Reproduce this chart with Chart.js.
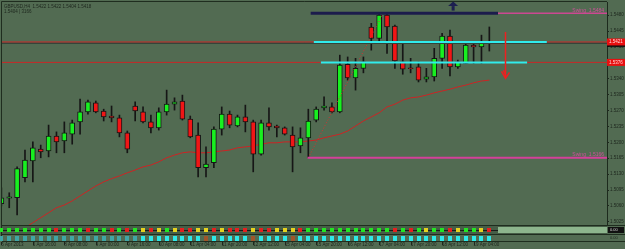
<!DOCTYPE html>
<html>
<head>
<meta charset="utf-8">
<script src="https://cdn.jsdelivr.net/npm/chart.js@4.4.0/dist/chart.umd.min.js"></script>
<style>
  html, body { margin: 0; padding: 0; background: #526b52; }
  #wrap { width: 625px; height: 249px; }
</style>
</head>
<body>
<div id="wrap"><canvas id="myChart" width="625" height="249"></canvas></div>
<script>
// GBPUSD H4 candles
const opens = [1.5065,1.5077,1.5078,1.5122,1.5159,1.5185,1.5181,1.5214,1.5203,1.5218,
	1.5245,1.5267,1.5287,1.5269,1.5258,1.5254,1.5221,1.5280,1.5267,1.5245,
	1.5232,1.5267,1.5284,1.5291,1.5251,1.5216,1.5144,1.5155,1.5229,1.5262,
	1.5236,1.5256,1.5245,1.5174,1.5243,1.5236,1.5232,1.5216,1.5192,1.5210,
	1.5249,1.5276,1.5278,1.5267,1.5372,1.5342,1.5363,1.5454,1.5429,1.5480,
	1.5456,1.5377,1.5363,1.5366,1.5339,1.5344,1.5385,1.5434,1.5366,1.5374,
	1.5414,1.5410,1.5421];
const highs = [1.5100,1.5089,1.5146,1.5183,1.5201,1.5194,1.5238,1.5223,1.5245,1.5249,
	1.5295,1.5293,1.5291,1.5273,1.5280,1.5260,1.5225,1.5289,1.5278,1.5260,
	1.5276,1.5315,1.5298,1.5304,1.5258,1.5243,1.5190,1.5234,1.5278,1.5269,
	1.5260,1.5282,1.5249,1.5249,1.5276,1.5238,1.5234,1.5234,1.5232,1.5273,
	1.5278,1.5300,1.5287,1.5392,1.5388,1.5385,1.5388,1.5462,1.5484,1.5484,
	1.5458,1.5418,1.5385,1.5377,1.5363,1.5407,1.5440,1.5447,1.5381,1.5418,
	1.5418,1.5436,1.5454];
const lows = [1.5060,1.5056,1.5040,1.5113,1.5113,1.5166,1.5168,1.5177,1.5177,1.5196,
	1.5218,1.5262,1.5265,1.5247,1.5245,1.5212,1.5177,1.5247,1.5243,1.5221,
	1.5227,1.5260,1.5271,1.5249,1.5210,1.5124,1.5124,1.5144,1.5216,1.5232,
	1.5234,1.5223,1.5135,1.5172,1.5227,1.5212,1.5216,1.5135,1.5177,1.5166,
	1.5245,1.5271,1.5265,1.5265,1.5337,1.5315,1.5353,1.5403,1.5418,1.5396,
	1.5363,1.5350,1.5353,1.5333,1.5333,1.5335,1.5363,1.5346,1.5363,1.5374,
	1.5374,1.5374,1.5401];
const closes = [1.5078,1.5080,1.5142,1.5161,1.5188,1.5179,1.5214,1.5201,1.5221,1.5243,
	1.5267,1.5289,1.5267,1.5256,1.5254,1.5221,1.5185,1.5269,1.5245,1.5232,
	1.5267,1.5284,1.5289,1.5251,1.5212,1.5144,1.5152,1.5229,1.5262,1.5238,
	1.5256,1.5245,1.5174,1.5243,1.5234,1.5232,1.5218,1.5190,1.5210,1.5247,
	1.5273,1.5280,1.5267,1.5370,1.5342,1.5363,1.5377,1.5429,1.5480,1.5454,
	1.5379,1.5361,1.5362,1.5337,1.5344,1.5385,1.5434,1.5366,1.5377,1.5414,
	1.5410,1.5421,1.5418];

// moving average (red), starts at candle 3
const maStart = 3;
const maVals = [1.5012,1.5023,1.5034,1.5045,1.5056,1.5062,1.5071,1.5082,1.5093,1.5104,
	1.5113,1.5120,1.5126,1.5133,1.5139,1.5146,1.5150,1.5157,1.5166,1.5172,
	1.5177,1.5179,1.5177,1.5177,1.5179,1.5181,1.5183,1.5188,1.5190,1.5192,
	1.5196,1.5199,1.5199,1.5201,1.5201,1.5201,1.5203,1.5205,1.5210,1.5214,
	1.5218,1.5225,1.5236,1.5247,1.5256,1.5265,1.5278,1.5284,1.5293,1.5298,
	1.5300,1.5304,1.5309,1.5313,1.5317,1.5322,1.5326,1.5331,1.5335,1.5337];

// indicator rows: g = green, r = red, y = yellow / c = cyan, d = dim cyan, b = brown
const signalRow = "gggggggrgggrggrgrgyrygyrryyryrrryrryyyrgggggggggggrgrgyggryggyr";
const trendRow  = "ddddddddddddddddddccccccccbcccccbccccbccccccccccccccccccccccccc";

const priceTicks = [1.5480,1.5445,1.5410,1.5375,1.5340,1.5305,1.5270,1.5235,1.5200,1.5165,1.5130,1.5095,1.5060,1.5025];
const timeTicks = [0,4,8,12,16,20,24,28,32,36,40,44,48,52,56,60];
const timeLabels = ["5 Apr 2013","5 Apr 16:00","8 Apr 08:00","9 Apr 00:00","9 Apr 16:00","10 Apr 08:00",
	"11 Apr 04:00","11 Apr 20:00","12 Apr 12:00","15 Apr 04:00","15 Apr 20:00","16 Apr 12:00",
	"17 Apr 04:00","17 Apr 20:00","18 Apr 12:00","19 Apr 04:00"];

// chart objects
const resistLevel = 1.5421;
const supportLevel = 1.5376;
const bidPrice = 1.5418;
const swingHigh = 1.5484;
const swingLow = 1.5166;
const headerText = "GBPUSD,H4  1.5422 1.5422 1.5404 1.5418";
const headerText2 = "1.5404 | 3166";

const xMin = 0.08, xMax = 76.95;
const yMin = 1.5018, yMax = 1.5509;

const idx = opens.map((_, i) => i);
const bodyData = idx.map(i => ({ x: i, y: [Math.min(opens[i], closes[i]), Math.max(opens[i], closes[i])] }));
const wickData = idx.map(i => ({ x: i, y: [lows[i], highs[i]] }));
const bodyColors = idx.map(i => closes[i] >= opens[i] ? '#18f020' : '#f01616');
const maData = maVals.map((v, j) => ({ x: j + maStart, y: v }));

function hline(level, from, to, color, width) {
	return {
		type: 'line', order: 0,
		data: [{ x: from, y: level }, { x: to, y: level }],
		borderColor: color, borderWidth: width,
		pointRadius: 0, tension: 0
	};
}

const decor = {
	id: 'decor',
	beforeDraw(chart) {
		const ctx = chart.ctx;
		ctx.save();
		ctx.fillStyle = '#526b52';
		ctx.fillRect(0, 0, chart.width, chart.height);
		ctx.restore();
	},
	afterDraw(chart) {
		const ctx = chart.ctx;
		const a = chart.chartArea;
		const xs = chart.scales.x, ys = chart.scales.y;
		ctx.save();

		// frame
		ctx.strokeStyle = '#1f2d1f';
		ctx.lineWidth = 1;
		ctx.beginPath();
		ctx.moveTo(1.5, 241); ctx.lineTo(1.5, 1.5); ctx.lineTo(a.right, 1.5);
		ctx.stroke();

		// indicator window 1
		const b = a.bottom;
		ctx.fillStyle = '#465d46';
		ctx.fillRect(2, b, a.right - 2, 9);
		ctx.fillStyle = '#8db58d';
		const lightFrom = xs.getPixelForValue(63.1);
		ctx.fillRect(lightFrom, b + 2, a.right - lightFrom, 6);
		ctx.strokeStyle = '#1f2d1f';
		ctx.beginPath();
		ctx.moveTo(2, b + 0.5); ctx.lineTo(625, b + 0.5);
		ctx.moveTo(2, b + 9.5); ctx.lineTo(625, b + 9.5);
		ctx.moveTo(2, b + 16.5); ctx.lineTo(625, b + 16.5);
		ctx.stroke();
		ctx.strokeStyle = '#1a1a1a';
		ctx.beginPath();
		ctx.moveTo(2, b + 5.5); ctx.lineTo(lightFrom, b + 5.5);
		ctx.stroke();
		const sigCol = { g: '#22e622', r: '#e61e1e', y: '#e6d21e' };
		for (let i = 0; i < signalRow.length; i++) {
			const px = Math.round(xs.getPixelForValue(i));
			ctx.fillStyle = sigCol[signalRow[i]];
			ctx.fillRect(px - 2, b + 3, 4, 4);
		}
		// indicator window 2
		const trCol = { c: '#2ee8e8', d: '#3fa6a6', b: '#a0552a' };
		for (let i = 0; i < trendRow.length; i++) {
			const px = Math.round(xs.getPixelForValue(i));
			ctx.fillStyle = trCol[trendRow[i]];
			ctx.fillRect(px - 2, b + 11, 4, 5);
		}
		ctx.fillStyle = '#111';
		ctx.fillRect(a.right + 1, b + 2, 16, 6);
		ctx.font = '4px "Liberation Sans"';
		ctx.textBaseline = 'middle';
		ctx.fillStyle = '#d8d8d8';
		ctx.fillText('0.00', a.right + 3, b + 5);
		ctx.fillStyle = '#1d261d';
		ctx.fillText('0.00', a.right + 3, b + 12.5);

		// time axis tick marks
		ctx.strokeStyle = '#1d261d';
		ctx.beginPath();
		timeTicks.forEach(t => {
			const px = Math.round(xs.getPixelForValue(t)) + 0.5;
			ctx.moveTo(px, b + 17); ctx.lineTo(px, b + 20);
		});
		ctx.stroke();

		// header
		ctx.font = '4.5px "Liberation Sans"';
		ctx.fillStyle = '#1d261d';
		ctx.textBaseline = 'alphabetic';
		ctx.fillText(headerText, 4, 8);
		ctx.fillText(headerText2, 4, 13);

		// swing labels
		ctx.font = '5px "Liberation Sans"';
		ctx.fillStyle = '#d0509a';
		ctx.textAlign = 'right';
		ctx.fillText('Swing  ' + swingHigh.toFixed(4), a.right - 3, ys.getPixelForValue(swingHigh) - 1.5);
		ctx.fillText('Swing  ' + swingLow.toFixed(4), a.right - 3, ys.getPixelForValue(swingLow) - 1.5);
		ctx.textAlign = 'left';

		// price boxes on the axis
		function box(level, bg, fg) {
			const py = ys.getPixelForValue(level);
			ctx.fillStyle = bg;
			ctx.fillRect(a.right, py - 3.5, 18, 7);
			ctx.fillStyle = fg;
			ctx.font = '4.5px "Liberation Sans"';
			ctx.textBaseline = 'middle';
			ctx.fillText(level.toFixed(4), a.right + 2, py);
		}
		box(bidPrice, '#0c0c0c', '#d0d0d0');
		box(resistLevel, '#e81010', '#ffd8d8');
		box(supportLevel, '#e81010', '#ffd8d8');

		// navy up arrow
		const ax = xs.getPixelForValue(57.4), ay = ys.getPixelForValue(1.5500);
		ctx.fillStyle = '#1d2050';
		ctx.beginPath();
		ctx.moveTo(ax - 5, ay); ctx.lineTo(ax, ay - 4.5); ctx.lineTo(ax + 5, ay);
		ctx.closePath(); ctx.fill();
		ctx.fillRect(ax - 1.5, ay, 3, 4.5);

		// red down arrow
		const rx = Math.round(xs.getPixelForValue(64.0)) + 0.5;
		const rTop = ys.getPixelForValue(1.5443), rBot = ys.getPixelForValue(1.5341);
		ctx.strokeStyle = '#ee2020';
		ctx.lineWidth = 1.5;
		ctx.beginPath();
		ctx.moveTo(rx, rTop); ctx.lineTo(rx, rBot);
		ctx.moveTo(rx - 4, rBot - 7); ctx.lineTo(rx, rBot); ctx.lineTo(rx + 4, rBot - 6);
		ctx.moveTo(rx - 2, rBot - 8); ctx.lineTo(rx, rBot - 3);
		ctx.stroke();

		ctx.restore();
	}
};

const ctx = document.getElementById("myChart").getContext("2d");
const myChart = new Chart(ctx, {
	type: 'bar',
	data: {
		datasets: [
			// objects, first in list = drawn on top
			hline(resistLevel, 39.7, 69.3, '#30ecec', 2),
			hline(supportLevel, 40.6, 66.8, '#30ecec', 2),
			hline(swingHigh, 39.3, 63.1, '#1c1c4c', 3),
			hline(swingHigh, 63.1, xMax, '#cc4892', 1.5),
			hline(swingLow, 38.9, xMax, '#d4409a', 2),
			hline(resistLevel, xMin, xMax, '#c82828', 1),
			hline(supportLevel, xMin, xMax, '#c82828', 1),
			hline(bidPrice, xMin, xMax, '#34453a', 1.5),
			{
				type: 'line', order: 0,
				data: [{ x: 39, y: lows[39] }, { x: 48.5, y: highs[48] }],
				borderColor: '#d83030', borderWidth: 1, borderDash: [1, 2],
				pointRadius: 0, tension: 0
			},
			{
				type: 'bar', order: 1, grouped: false,
				data: bodyData,
				backgroundColor: bodyColors,
				borderColor: '#161616', borderWidth: 1, borderSkipped: false,
				barThickness: 5, minBarLength: 1
			},
			{
				type: 'bar', order: 2, grouped: false,
				data: wickData,
				backgroundColor: '#161616', borderWidth: 0,
				barThickness: 1
			},
			{
				type: 'line', order: 3,
				data: maData,
				borderColor: '#cc2424', borderWidth: 1,
				pointRadius: 0, tension: 0
			}
		]
	},
	options: {
		responsive: false,
		animation: false,
		events: [],
		layout: { padding: { left: 2, top: 2, right: 0, bottom: 0 } },
		plugins: { legend: { display: false }, tooltip: { enabled: false } },
		scales: {
			x: {
				type: 'linear', min: xMin, max: xMax, offset: false,
				afterBuildTicks: s => { s.ticks = timeTicks.map(v => ({ value: v })); },
				afterFit: s => { s.height = 24; s.paddingLeft = 0; s.paddingRight = 0; },
				ticks: {
					autoSkip: false, maxRotation: 0, minRotation: 0, align: 'start', padding: 0,
					font: { size: 4.5, family: 'Liberation Sans' }, color: '#1d261d',
					callback: (v, i) => timeLabels[i]
				},
				grid: { display: true, drawOnChartArea: false, drawTicks: true, tickLength: 17, color: 'rgba(0,0,0,0)' },
				border: { display: false }
			},
			y: {
				type: 'linear', position: 'right', min: yMin, max: yMax, beginAtZero: false,
				afterBuildTicks: s => { s.ticks = priceTicks.map(v => ({ value: v })); },
				afterFit: s => { s.width = 18; s.paddingTop = 0; s.paddingBottom = 0; },
				ticks: {
					padding: 1, font: { size: 4.5, family: 'Liberation Sans' }, color: '#1d261d',
					callback: v => v.toFixed(4)
				},
				grid: { drawOnChartArea: false, tickLength: 2, color: '#1d261d' },
				border: { display: true, color: '#1d2a1d', width: 1 }
			}
		}
	},
	plugins: [decor]
});
</script>
</body>
</html>
